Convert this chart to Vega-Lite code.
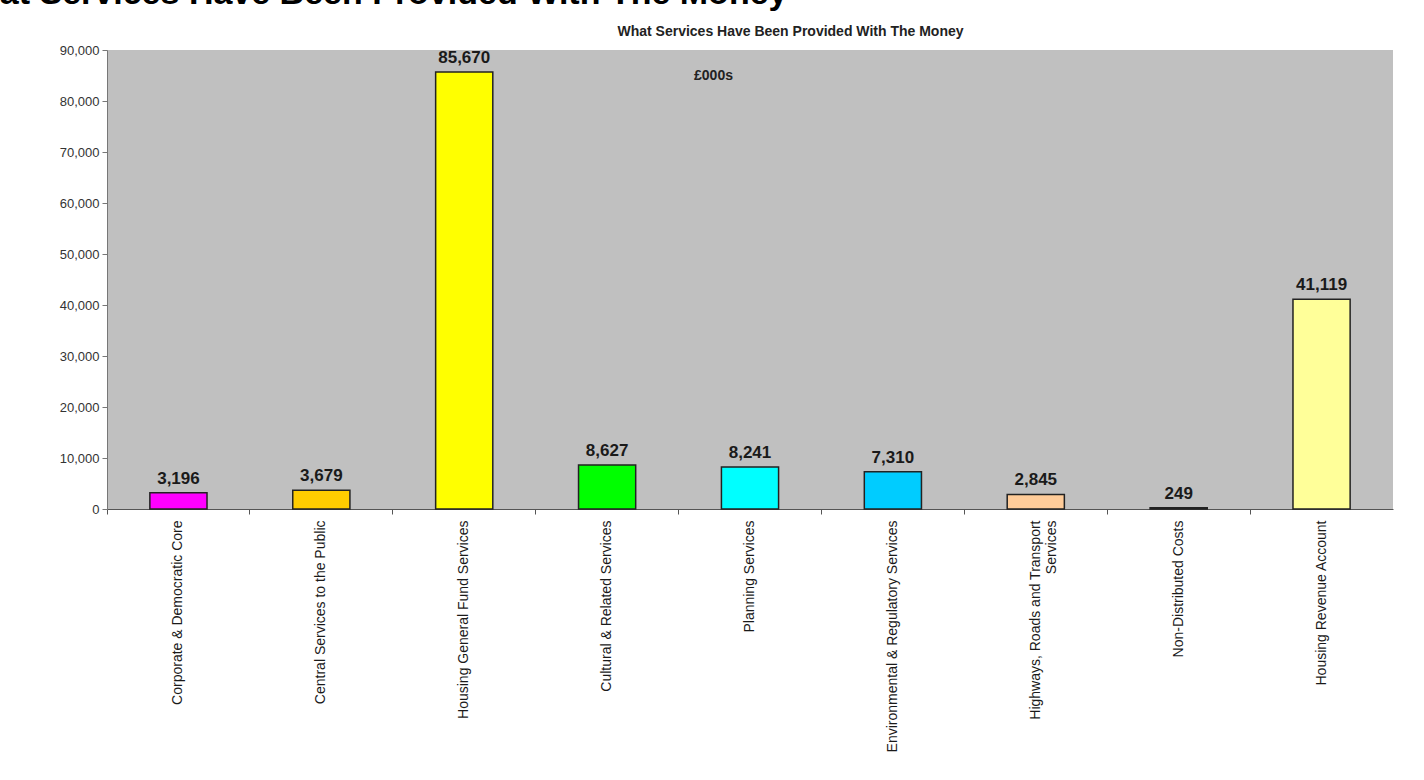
{
  "$schema": "https://vega.github.io/schema/vega-lite/v6.json",
  "width": 1286,
  "height": 459,
  "autosize": {"type": "none"},
  "padding": {"left": 107, "top": 50, "right": 31, "bottom": 271},
  "background": "white",
  "config": {
    "font": "Liberation Sans",
    "view": {"fill": "#C0C0C0", "stroke": null},
    "axis": {"grid": false, "labelFont": "Liberation Sans", "titleFont": "Liberation Sans"}
  },
  "title": {
    "text": "What Services Have Been Provided With The Money",
    "fontSize": 34,
    "fontWeight": "bold",
    "color": "#000000",
    "anchor": "start",
    "frame": "group",
    "baseline": "alphabetic",
    "dx": -160,
    "dy": 35,
    "offset": 21
  },
  "data": {
    "values": [
      {"service": "Corporate & Democratic Core", "amount": 3196},
      {"service": "Central Services to the Public", "amount": 3679},
      {"service": "Housing General Fund Services", "amount": 85670},
      {"service": "Cultural & Related Services", "amount": 8627},
      {"service": "Planning Services", "amount": 8241},
      {"service": "Environmental & Regulatory Services", "amount": 7310},
      {"service": "Highways, Roads and Transport Services", "amount": 2845},
      {"service": "Non-Distributed Costs", "amount": 249},
      {"service": "Housing Revenue Account", "amount": 41119}
    ]
  },
  "encoding": {
    "y": {
      "field": "amount",
      "type": "quantitative",
      "scale": {"domain": [0, 90000], "nice": false},
      "axis": {
        "title": "What Services Have Been Provided With The Money",
        "titleAngle": 0,
        "titleX": 683,
        "titleY": -19,
        "titleAlign": "center",
        "titleBaseline": "middle",
        "titleFontSize": 14,
        "titleFontWeight": "bold",
        "titleColor": "#222222",
        "values": [0, 10000, 20000, 30000, 40000, 50000, 60000, 70000, 80000, 90000],
        "format": ",.0f",
        "labelFontSize": 13,
        "labelColor": "#333333",
        "labelPadding": 3,
        "tickSize": 5,
        "tickColor": "#777777",
        "domainColor": "#777777"
      }
    }
  },
  "layer": [
    {
      "mark": {"type": "bar", "width": {"band": 0.4}, "stroke": "#222222", "strokeWidth": 1.5},
      "encoding": {
        "x": {
          "field": "service",
          "type": "nominal",
          "sort": null,
          "scale": {"paddingInner": 0, "paddingOuter": 0},
          "axis": {
            "title": null,
            "orient": "bottom",
            "bandPosition": 0,
            "labelAngle": -90,
            "labelPadding": 6,
            "labelFontSize": 14,
            "labelColor": "#1a1a1a",
            "labelLimit": 320,
            "labelExpr": "datum.label == 'Highways, Roads and Transport Services' ? ['Highways,  Roads and Transport', 'Services'] : datum.label",
            "tickSize": 5,
            "tickColor": "#555555",
            "domainColor": "#555555"
          }
        },
        "color": {
          "field": "service",
          "type": "nominal",
          "legend": null,
          "scale": {
            "domain": [
              "Corporate & Democratic Core",
              "Central Services to the Public",
              "Housing General Fund Services",
              "Cultural & Related Services",
              "Planning Services",
              "Environmental & Regulatory Services",
              "Highways, Roads and Transport Services",
              "Non-Distributed Costs",
              "Housing Revenue Account"
            ],
            "range": ["#FF00FF", "#FFCC00", "#FFFF00", "#00FF00", "#00FFFF", "#00CCFF", "#FFCC99", "#333333", "#FFFF99"]
          }
        }
      }
    },
    {
      "mark": {"type": "text", "baseline": "bottom", "dy": -5, "fontSize": 17, "fontWeight": "bold", "color": "#1a1a1a"},
      "encoding": {
        "x": {
          "field": "service",
          "type": "nominal",
          "sort": null,
          "axis": {
            "orient": "top",
            "title": "£000s",
            "titleX": 606,
            "titleY": 25,
            "titleAlign": "center",
            "titleBaseline": "middle",
            "titleFontSize": 14,
            "titleFontWeight": "bold",
            "titleColor": "#222222",
            "labels": false,
            "ticks": false,
            "domain": false
          }
        },
        "text": {"field": "amount", "type": "quantitative", "format": ","}
      }
    }
  ]
}
